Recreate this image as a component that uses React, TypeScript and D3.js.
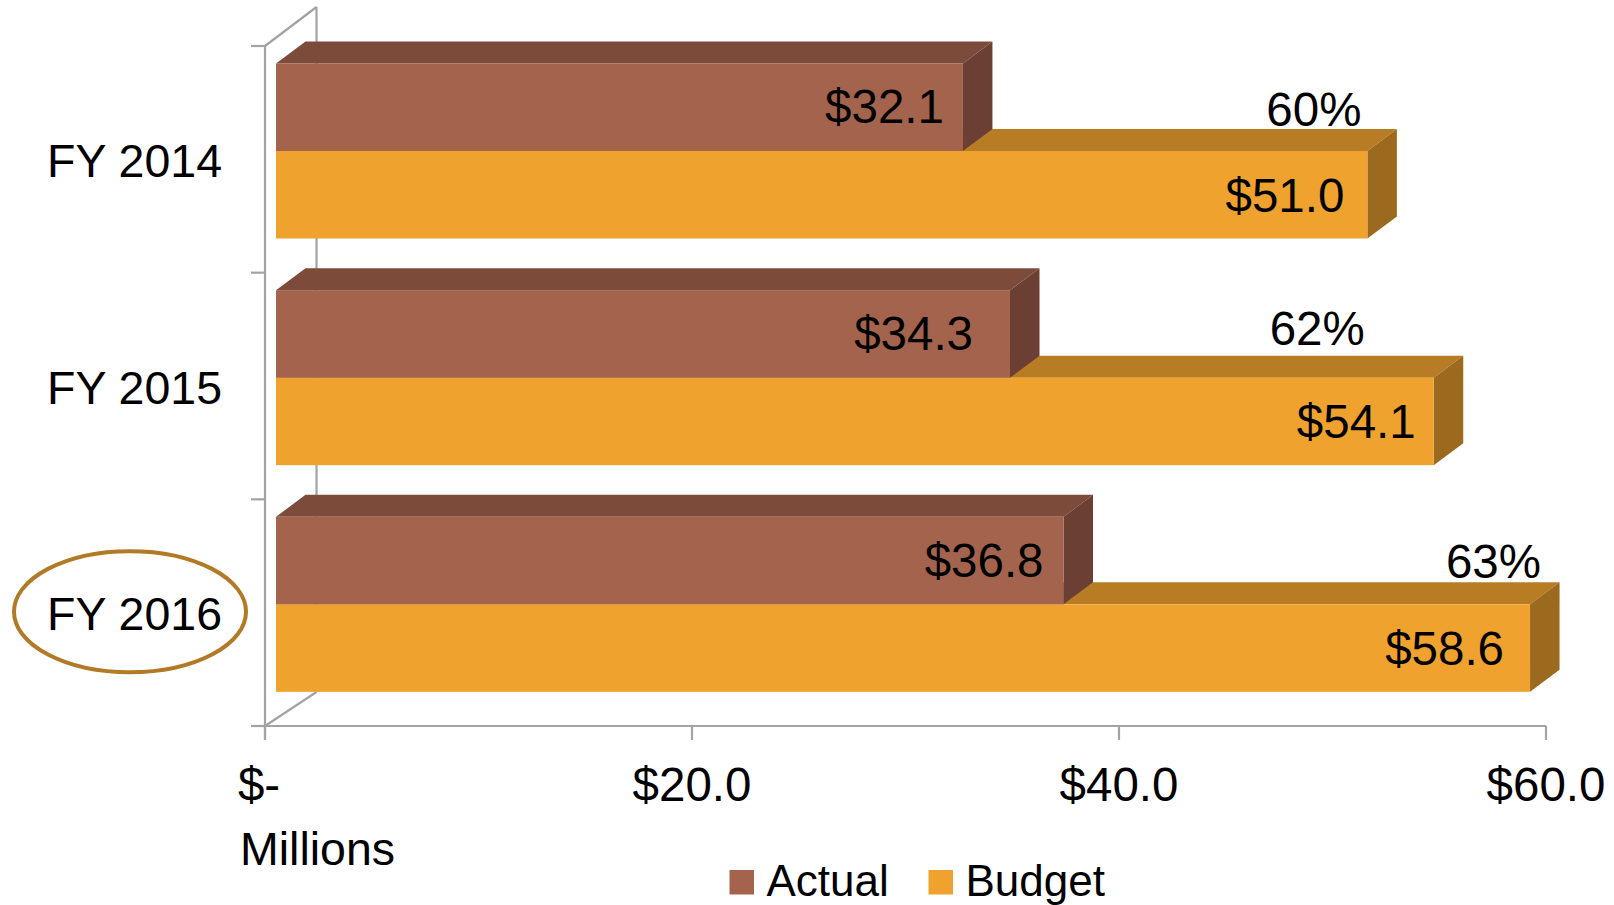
import React from "react";
import * as d3 from "d3";

// ---- data ----
const categories = ["FY 2014", "FY 2015", "FY 2016"];
const actual = [32.1, 34.3, 36.8];
const budget = [51.0, 54.1, 58.6];
const pctLabels = ["60%", "62%", "63%"];
const xTicks = [0, 20, 40, 60];
const xTickLabels = ["$-", "$20.0", "$40.0", "$60.0"];
const seriesNames = ["Actual", "Budget"];
const highlighted = "FY 2016";

// ---- layout (not data) ----
const W = 1614;
const H = 905;
const FONT = "'Liberation Sans', Arial, Helvetica, sans-serif";
const DX = 29.5; // depth offset x
const DY = -22; // depth offset y
const actualInset = [19, 37, 20];
const budgetInset = [23, 18, 26];
const pctDx = [-6, -69, 11];
const pctDy = [80, 72, 79];

const colors = {
  actual: { front: "#A4634D", top: "#7D4B3A", side: "#6B3F33" },
  budget: { front: "#F0A22E", top: "#B87D24", side: "#9C6A1E" },
};

export default function App() {
  const xAxis = d3.scaleLinear().domain([0, 60]).range([265, 1546]);
  const xBar = d3.scaleLinear().domain([0, 60]).range([276, 1560]);
  const y = d3.scaleBand().domain(categories).range([46, 726]).padding(0);
  const band = y.bandwidth();
  const barH = 87.5;
  const barOff = 17.5;

  const axisColor = "#A3A3A3";
  const wallBackX = 316.5;
  const wallTopY = 7;
  const floorY = 726;
  const axisX = 265;

  const box = (x0: number, x1: number, yTop: number, h: number, c: { front: string; top: string; side: string }, key: string) => {
    const yB = yTop + h;
    const top = `M${x0},${yTop}L${x0 + DX},${yTop + DY}L${x1 + DX},${yTop + DY}L${x1},${yTop}Z`;
    const side = `M${x1},${yTop}L${x1 + DX},${yTop + DY}L${x1 + DX},${yB + DY}L${x1},${yB}Z`;
    return (
      <g key={key}>
        <path d={top} fill={c.top} />
        <path d={side} fill={c.side} />
        <rect x={x0} y={yTop} width={x1 - x0} height={h} fill={c.front} />
      </g>
    );
  };

  return (
    <svg
      width={W}
      height={H}
      viewBox={`0 0 ${W} ${H}`}
      style={{ position: "absolute", left: 0, top: 0, background: "#fff" }}
      fontFamily={FONT}
    >
      {/* walls / axes */}
      <g stroke={axisColor} strokeWidth={2.2} fill="none">
        <line x1={wallBackX} y1={wallTopY} x2={wallBackX} y2={floorY - 34} />
        <line x1={axisX} y1={46} x2={wallBackX} y2={wallTopY} />
        <line x1={axisX} y1={floorY} x2={wallBackX} y2={floorY - 34} />
        <line x1={axisX} y1={46} x2={axisX} y2={740} />
        {[...categories.map((c) => y(c) as number), floorY].map((v, i) => (
          <line key={"yt" + i} x1={251} y1={v} x2={axisX} y2={v} />
        ))}
        <line x1={axisX} y1={floorY} x2={xAxis(60)} y2={floorY} />
        {xTicks.map((t) => (
          <line key={"xt" + t} x1={xAxis(t)} y1={floorY} x2={xAxis(t)} y2={740} />
        ))}
      </g>

      {/* bars */}
      {categories.map((c, i) => {
        const y0 = (y(c) as number) + barOff;
        return (
          <g key={c}>
            {box(xBar(0), xBar(budget[i]), y0 + barH, barH, colors.budget, "b" + i)}
            {box(xBar(0), xBar(actual[i]), y0, barH, colors.actual, "a" + i)}
          </g>
        );
      })}

      {/* value labels */}
      <g fontSize={47.5} fill="#000">
        {categories.map((c, i) => {
          const y0 = (y(c) as number) + barOff;
          return (
            <g key={"l" + c}>
              <text x={xBar(actual[i]) - actualInset[i]} y={y0 + barH / 2 + 16} textAnchor="end">
                {"$" + actual[i].toFixed(1)}
              </text>
              <text x={xBar(budget[i]) - budgetInset[i]} y={y0 + barH * 1.5 + 17} textAnchor="end">
                {"$" + budget[i].toFixed(1)}
              </text>
              <text x={xBar(budget[i]) + pctDx[i]} y={(y(c) as number) + pctDy[i]} textAnchor="end">
                {pctLabels[i]}
              </text>
            </g>
          );
        })}
      </g>

      {/* category labels */}
      <g fontSize={46.5} fill="#000">
        {categories.map((c) => (
          <text key={"c" + c} x={222} y={(y(c) as number) + band / 2 + 17.5} textAnchor="end">
            {c}
          </text>
        ))}
      </g>
      {categories
        .filter((c) => c === highlighted)
        .map((c) => (
          <ellipse
            key="hl"
            cx={130}
            cy={(y(c) as number) + band / 2 - 1}
            rx={116}
            ry={60.5}
            fill="none"
            stroke="#B27A26"
            strokeWidth={4}
          />
        ))}

      {/* x tick labels */}
      <g fontSize={47.5} fill="#000">
        {xTicks.map((t, i) => (
          <text key={"xl" + t} x={xAxis(t) + (i === 0 ? -6 : 0)} y={801} textAnchor="middle">
            {xTickLabels[i]}
          </text>
        ))}
        <text x={240} y={865} textAnchor="start" fontSize={46.5}>
          Millions
        </text>
      </g>

      {/* legend */}
      <g fontSize={44} fill="#000">
        {seriesNames.map((s, i) => {
          const lx = i === 0 ? 729.5 : 928.5;
          const col = i === 0 ? colors.actual.front : colors.budget.front;
          return (
            <g key={"lg" + s}>
              <rect x={lx} y={870} width={24.5} height={24.5} fill={col} />
              <text x={lx + 37} y={896}>
                {s}
              </text>
            </g>
          );
        })}
      </g>
    </svg>
  );
}
